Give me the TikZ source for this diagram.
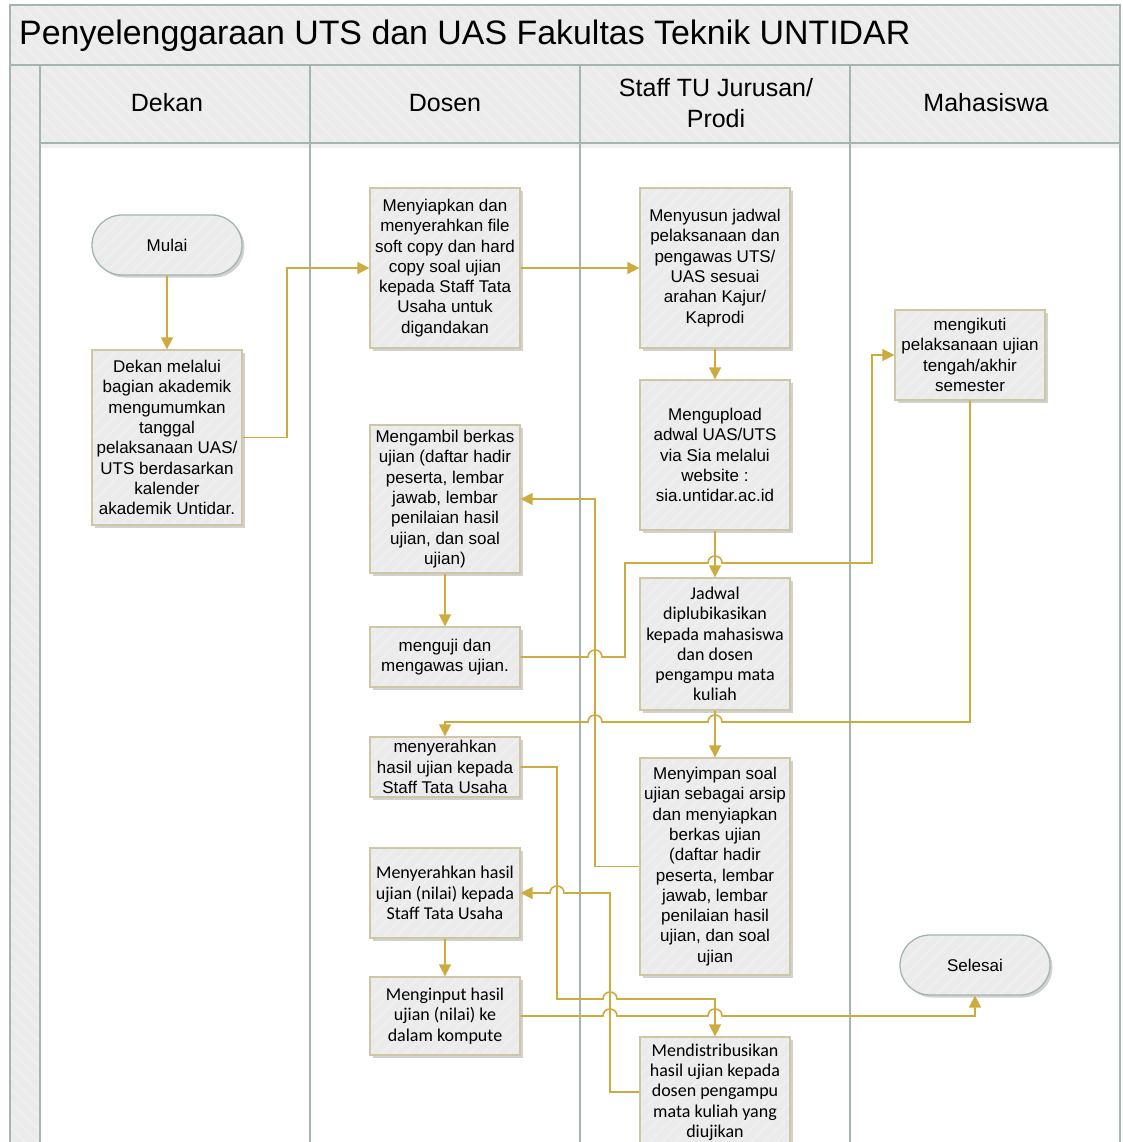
\documentclass[tikz,border=0pt]{standalone}
\usepackage{fontspec}
\setmainfont{Liberation Sans}
\newfontfamily\calib{Carlito}
\usetikzlibrary{arrows.meta,shapes.misc,shadows,patterns.meta}
\definecolor{lanec}{HTML}{A2B5AF}
\definecolor{boxfill}{HTML}{EBEBEB}
\definecolor{hatchc}{HTML}{F0F0F0}
\definecolor{boxline}{HTML}{CFC6A3}
\definecolor{flow}{HTML}{CDAB3F}
\tikzset{
  hatchbg/.style={preaction={fill=boxfill}, pattern={Lines[angle=-45,distance=9pt,line width=1.5pt]}, pattern color=hatchc},
  hatchbox/.style={preaction={fill=boxfill}, pattern={Lines[angle=45,distance=9pt,line width=1.5pt]}, pattern color=hatchc},
  shad/.style={drop shadow={shadow xshift=2.5pt,shadow yshift=-2.5pt,opacity=0.18,fill=black}},
  proc/.style={shad, hatchbox, draw=boxline, line width=1.3pt, minimum width=150pt, inner sep=0pt, align=center, font=\fontsize{17}{20.3}\selectfont},
  procc/.style={proc, font=\calib\fontsize{18}{20.3}\selectfont},
  term/.style={rounded rectangle, shad, hatchbox, draw=lanec, line width=1.3pt, minimum width=150pt, minimum height=60pt, inner sep=0pt, font=\fontsize{17}{20}\selectfont},
  lane/.style={draw=lanec, line width=1.8pt},
  flowline/.style={draw=flow, line width=1.6pt, -{Triangle[width=12pt,length=12pt]}},
  hdr/.style={inner sep=0pt, align=center, font=\fontsize{25}{31}\selectfont}
}
\begin{document}
\begin{tikzpicture}[x=1pt,y=-1pt]
\clip (0,0) rectangle (1122,1142);
\useasboundingbox (0,0) rectangle (1122,1142);
% backgrounds
\fill[hatchbg] (10,5) rectangle (1120,65);
\fill[hatchbg] (40,65) rectangle (1120,143);
\fill[hatchbg] (10,65) rectangle (40,1142);
\fill[black, opacity=0.06] (40,144) rectangle (1120,148);
% lane lines
\draw[lane] (10,1142) -- (10,5) -- (1120,5) -- (1120,1142);
\draw[lane] (10,65) -- (1120,65);
\draw[lane] (40,65) -- (40,1142);
\draw[lane] (310,65) -- (310,1142);
\draw[lane] (580,65) -- (580,1142);
\draw[lane] (850,65) -- (850,1142);
\draw[lane] (40,143) -- (1120,143);
% title and headers
\node[inner sep=0pt, anchor=west, font=\fontsize{33.9}{40}\selectfont] (title) at (19,36) {Penyelenggaraan UTS dan UAS Fakultas Teknik UNTIDAR};
\node[hdr] (hdekan) at (167,103) {Dekan};
\node[hdr] (hdosen) at (445,103) {Dosen};
\node[hdr] (hstaff) at (716,103) {Staff TU Jurusan/\\Prodi};
\node[hdr] (hmhs) at (986,103) {Mahasiswa};
% nodes
\node[term] (mulai) at (167,245) {Mulai};
\node[proc, minimum height=175pt] (dekan) at (167,437.5) {Dekan melalui\\bagian akademik\\mengumumkan\\tanggal\\pelaksanaan UAS/\\UTS berdasarkan\\kalender\\akademik Untidar.};
\node[proc, minimum height=160pt] (siapkan) at (445,268) {Menyiapkan dan\\menyerahkan file\\soft copy dan hard\\copy soal ujian\\kepada Staff Tata\\Usaha untuk\\digandakan};
\node[proc, minimum height=160pt] (susun) at (715,268) {Menyusun jadwal\\pelaksanaan dan\\pengawas UTS/\\UAS sesuai\\arahan Kajur/\\Kaprodi};
\node[proc, minimum height=150pt] (upload) at (715,455) {Mengupload\\adwal UAS/UTS\\via Sia melalui\\website :\\sia.untidar.ac.id};
\node[proc, minimum height=90pt] (ikut) at (970,355) {mengikuti\\pelaksanaan ujian\\tengah/akhir\\semester};
\node[proc, minimum height=148pt] (ambil) at (445,499) {Mengambil berkas\\ujian (daftar hadir\\peserta, lembar\\jawab, lembar\\penilaian hasil\\ujian, dan soal\\ujian)};
\node[proc, minimum height=60pt] (uji) at (445,657) {menguji dan\\mengawas ujian.};
\node[procc, minimum height=132pt] (jadwal) at (715,644) {Jadwal\\diplubikasikan\\kepada mahasiswa\\dan dosen\\pengampu mata\\kuliah};
\node[proc, minimum height=60pt] (serah1) at (445,767) {menyerahkan\\hasil ujian kepada\\Staff Tata Usaha};
\node[proc, minimum height=217pt] (simpan) at (715,866.5) {Menyimpan soal\\ujian sebagai arsip\\dan menyiapkan\\berkas ujian\\(daftar hadir\\peserta, lembar\\jawab, lembar\\penilaian hasil\\ujian, dan soal\\ujian};
\node[procc, minimum height=90pt] (serah2) at (445,893) {Menyerahkan hasil\\ujian (nilai) kepada\\Staff Tata Usaha};
\node[procc, minimum height=78pt] (input) at (445,1016) {Menginput hasil\\ujian (nilai) ke\\dalam kompute};
\node[term] (selesai) at (975,965) {Selesai};
\node[procc, minimum height=110pt] (distrib) at (715,1092) {Mendistribusikan\\hasil ujian kepada\\dosen pengampu\\mata kuliah yang\\diujikan};
% connectors
\draw[flowline] (mulai) -- (dekan);
\draw[flowline] (dekan.east) -- (287,437.5) -- (287,268) -- (siapkan.west);
\draw[flowline] (siapkan) -- (susun);
\draw[flowline] (susun) -- (upload);
\draw[flowline] (upload) -- (jadwal);
\draw[flowline] (ambil) -- (uji);
\draw[flowline] (simpan.west) -- (595,866.5) -- (595,499) -- (ambil.east);
\draw[flowline] (uji.east) -- (588,657) .. controls (588,647.7) and (602,647.7) .. (602,657) -- (625,657) -- (625,563)
  -- (708,563) .. controls (708,553.7) and (722,553.7) .. (722,563) -- (872,563) -- (872,355) -- (ikut.west);
\draw[flowline] (jadwal) -- (simpan);
\draw[flowline] (ikut.south) -- (970,722) -- (722,722) .. controls (722,712.7) and (708,712.7) .. (708,722)
  -- (602,722) .. controls (602,712.7) and (588,712.7) .. (588,722) -- (445,722) -- (serah1.north);
\draw[flowline] (serah1.east) -- (557,767) -- (557,999) -- (603,999) .. controls (603,989.7) and (617,989.7) .. (617,999)
  -- (715,999) -- (distrib.north);
\draw[flowline] (distrib.west) -- (610,1092) -- (610,893) -- (564,893) .. controls (564,883.7) and (550,883.7) .. (550,893) -- (serah2.east);
\draw[flowline] (serah2) -- (input);
\draw[flowline] (input.east) -- (603,1016) .. controls (603,1006.7) and (617,1006.7) .. (617,1016)
  -- (708,1016) .. controls (708,1006.7) and (722,1006.7) .. (722,1016) -- (975,1016) -- (selesai.south);
\end{tikzpicture}
\end{document}
